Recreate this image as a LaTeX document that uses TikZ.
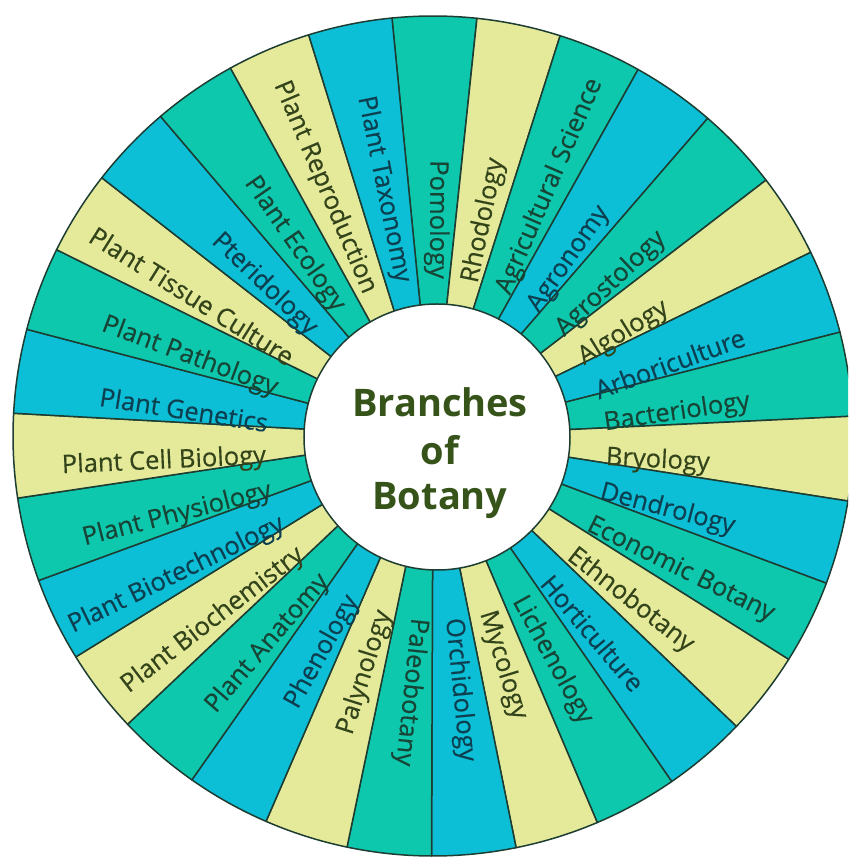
\documentclass[tikz,border=0pt]{standalone}
\usepackage{fontspec}
\setmainfont{Open Sans}
\newfontfamily\labelfont[FakeBold=0.35]{Open Sans}
\definecolor{secY}{HTML}{E4EA9A}
\definecolor{secT}{HTML}{0EC8AE}
\definecolor{secB}{HTML}{0CBED6}
\definecolor{txtY}{HTML}{33431A}
\definecolor{txtT}{HTML}{164536}
\definecolor{txtB}{HTML}{0C4050}
\definecolor{edgecol}{HTML}{1E3D32}
\definecolor{titlegreen}{HTML}{36531A}
\tikzset{
  sector/.style={draw=edgecol, line width=1.5pt, line join=round},
  lab/.style={inner sep=0pt, font=\labelfont\fontsize{25.5}{30}\selectfont},
  titletext/.style={inner sep=0pt, anchor=base, text=titlegreen, font=\fontsize{38}{46}\selectfont\bfseries},
  hubstyle/.style={circle, fill=white, draw=edgecol, line width=1.5pt, minimum size=266pt, inner sep=0pt}
}
\begin{document}
\begin{tikzpicture}[x=1pt,y=1pt]
\useasboundingbox (-433,-422) rectangle (415,436);
\def\branchlist{1/Pomology/T/i, 2/Rhodology/Y/o, 3/Agricultural Science/T/o, 4/Agronomy/B/o, 5/Agrostology/T/o, 6/Algology/Y/o, 7/Arboriculture/B/o, 8/Bacteriology/T/o, 9/Bryology/Y/o, 10/Dendrology/B/o, 11/Economic Botany/T/o, 12/Ethnobotany/Y/o, 13/Horticulture/B/o, 14/Lichenology/T/o, 15/Mycology/Y/o, 16/Orchidology/B/o, 17/Paleobotany/T/o, 18/Palynology/Y/i, 19/Phenology/B/i, 20/Plant Anatomy/T/i, 21/Plant Biochemistry/Y/i, 22/Plant Biotechnology/B/i, 23/Plant Physiology/T/i, 24/Plant Cell Biology/Y/i, 25/Plant Genetics/B/i, 26/Plant Pathology/T/i, 27/Plant Tissue Culture/Y/i, 28/Pteridology/B/i, 29/Plant Ecology/T/i, 30/Plant Reproduction/Y/i, 31/Plant Taxonomy/B/i}
\begin{scope}
\clip (-433,-422) rectangle (415,436);
\foreach \k/\lab/\col/\orient in \branchlist {
  \pgfmathsetmacro{\ang}{89.8-(\k-1)*360/31}
  \pgfmathsetmacro{\sa}{\ang+180/31}
  \pgfmathsetmacro{\ea}{\ang-180/31}
  \filldraw[sector, fill=sec\col] (0,0) -- (\sa:420) arc[start angle=\sa, end angle=\ea, radius=420] -- cycle;
}
\end{scope}
\node[hubstyle] (hub) at (4,-1) {};
\foreach \k/\lab/\col/\orient in \branchlist {
  \pgfmathsetmacro{\ang}{89.8-(\k-1)*360/31}
  \pgfmathsetmacro{\flip}{\ang+180}
  \if\orient o
    \node[lab, text=txt\col, rotate=\ang, anchor=west] (l\k) at ([shift={(3,-13)}]\ang:170) {\lab};
  \else
    \node[lab, text=txt\col, rotate=\flip, anchor=east] (l\k) at ([shift={(3,-13)}]\ang:170) {\lab};
  \fi
}
\node[titletext] (t1) at (7,19) {Branches};
\node[titletext] (t2) at (7,-29) {of};
\node[titletext] (t3) at (7,-74) {Botany};
\end{tikzpicture}
\end{document}
